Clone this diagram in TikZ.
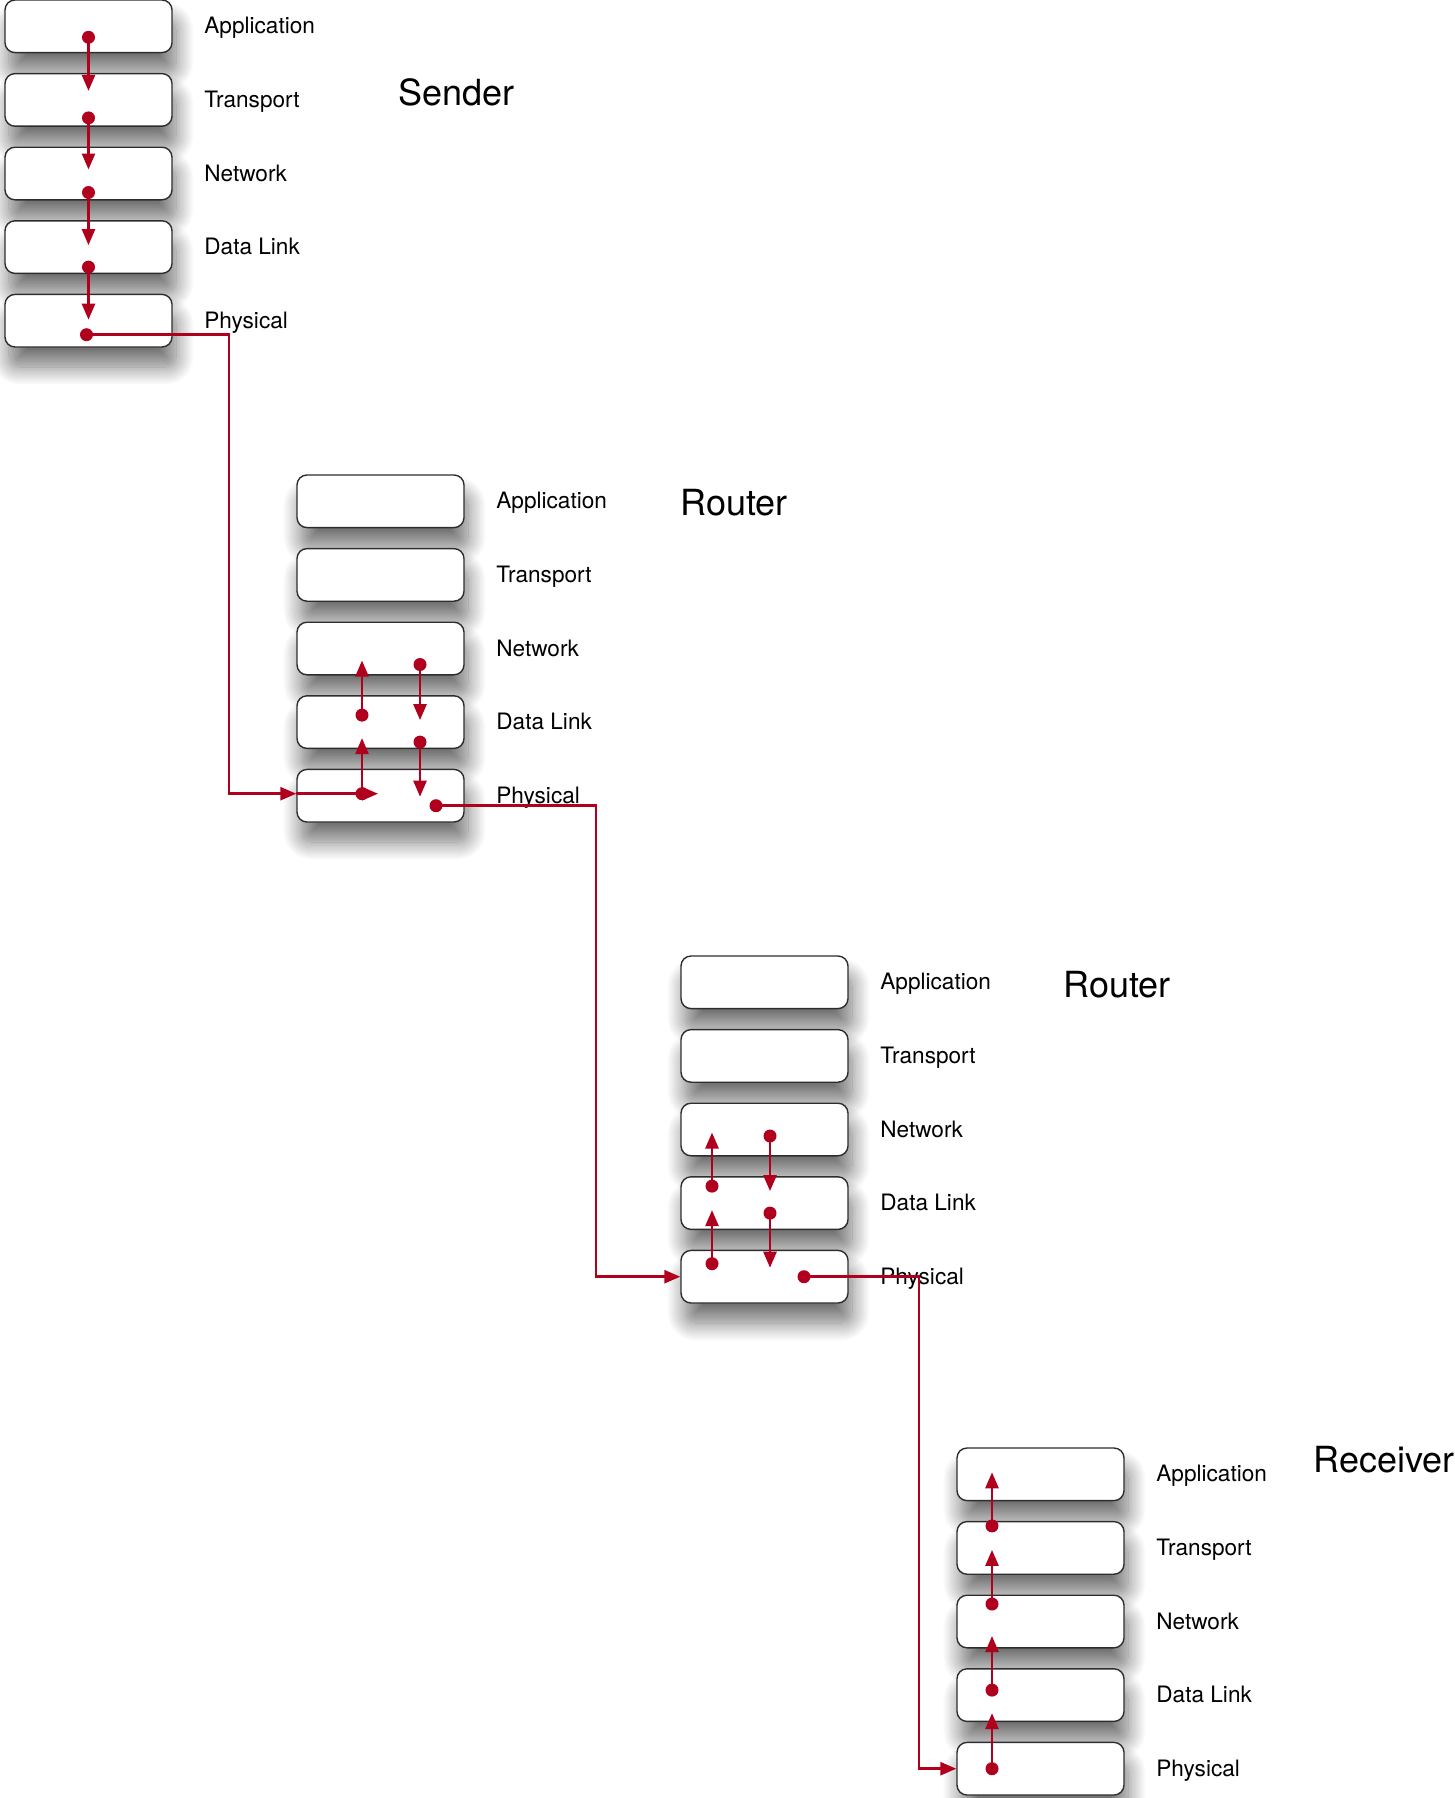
\documentclass[tikz,border=0pt]{standalone}
\usepackage{fontspec}
\setmainfont{TeX Gyre Heros}
\usepackage{tikz}
\usetikzlibrary{arrows.meta,positioning,calc,shadows.blur}
\definecolor{flowred}{RGB}{176,0,30}
\definecolor{boxedge}{RGB}{45,45,45}

\tikzset{
    layerbox/.style={
        rounded corners=5pt,
        draw=boxedge,
        line width=0.7pt,
        fill=white,
        minimum width=83.5pt,
        minimum height=26.3pt,
        inner sep=0pt,
        blur shadow={shadow xshift=2pt,shadow yshift=-10pt,shadow blur radius=9pt,shadow blur steps=16,shadow opacity=55}
    },
    layername/.style={anchor=base west,inner sep=0pt,font=\fontsize{11.3}{14}\selectfont},
    hostname/.style={anchor=west,inner sep=0pt,font=\fontsize{18}{22}\selectfont},
    hop/.style={draw=flowred,line width=1.3pt,-{Triangle[length=8pt,width=6.5pt]}},
    pkt/.style={circle,fill=flowred,inner sep=0pt,minimum size=6.5pt}
}

% one stack of five layers, #1 = prefix, (#2,#3) = top left corner
\newcommand{\protostack}[3]{%
  \foreach \lname/\ltext [count=\i from 0] in {app/Application,tra/Transport,net/Network,dl/Data Link,phy/Physical}{
    \node[layerbox] (#1-\lname) at ({#2+83.5},{#3+26.3+73.6*\i}) {};
    \node[layername] (#1-\lname-txt) at ({#2+199},{#3+33.8+73.6*\i}) {\ltext};
  }%
}

\begin{document}
\begin{tikzpicture}[x=0.5pt,y=-0.5pt]
\useasboundingbox (0,0) rectangle (1455,1798);

% stacks
\protostack{S}{5}{0}
\protostack{R1}{297}{475}
\protostack{R2}{681}{956}
\protostack{Rx}{957}{1448}

\node[hostname] (S-title) at (398,92) {Sender};
\node[hostname] (R1-title) at (680,503) {Router};
\node[hostname] (R2-title) at (1063,985) {Router};
\node[hostname] (Rx-title) at (1313,1460) {Receiver};

% sender: down the stack
\foreach \hi/\lo/\dy/\ty [count=\k] in {app/tra/11/-9,tra/net/18/-4,net/dl/19/-2,dl/phy/20/-1}{
  \node[pkt] (S-d\k) at ($(S-\hi)+(0,\dy)$) {};
  \coordinate (S-t\k) at ($(S-\lo)+(0,\ty)$);
  \draw[hop] (S-d\k.center) -- (S-t\k);
}
\node[pkt] (S-out) at ($(S-phy)+(-2,14)$) {};
\coordinate (S-turn) at (229,0);

% first router
\coordinate (R1-in) at ($(R1-phy.west)+(0,-2)$);
\coordinate (R1-t0) at ($(R1-phy)+(-2.5,-2)$);
\node[pkt] (R1-u1) at ($(R1-phy)+(-18.5,-2)$) {};
\coordinate (R1-u2) at ($(R1-dl)+(-18.5,16)$);
\node[pkt] (R1-u3) at ($(R1-dl)+(-18.5,-7)$) {};
\coordinate (R1-u4) at ($(R1-net)+(-18.5,12)$);
\node[pkt] (R1-n1) at ($(R1-net)+(39.5,16)$) {};
\coordinate (R1-n2) at ($(R1-dl)+(39.5,-2)$);
\node[pkt] (R1-n3) at ($(R1-dl)+(39.5,20)$) {};
\coordinate (R1-n4) at ($(R1-phy)+(39.5,1)$);
\node[pkt] (R1-out) at ($(R1-phy)+(55.5,10)$) {};
\coordinate (R1-turn) at (596,0);

% second router
\coordinate (R2-in) at (R2-phy.west);
\node[pkt] (R2-u1) at ($(R2-phy)+(-52.5,-13)$) {};
\coordinate (R2-u2) at ($(R2-dl)+(-52.5,7)$);
\node[pkt] (R2-u3) at ($(R2-dl)+(-52.5,-17)$) {};
\coordinate (R2-u4) at ($(R2-net)+(-52.5,3)$);
\node[pkt] (R2-n1) at ($(R2-net)+(5.5,6.5)$) {};
\coordinate (R2-n2) at ($(R2-dl)+(5.5,-12)$);
\node[pkt] (R2-n3) at ($(R2-dl)+(5.5,10)$) {};
\coordinate (R2-n4) at ($(R2-phy)+(5.5,-9)$);
\node[pkt] (R2-out) at ($(R2-phy)+(39.5,0)$) {};
\coordinate (R2-turn) at (919,0);

% receiver
\coordinate (Rx-in) at (Rx-phy.west);

% links between the machines
\draw[hop] (S-out.center) -| (S-turn |- R1-in) -- (R1-in);
\draw[hop] (R1-in) -- (R1-t0);
\draw[hop] (R1-u1.center) -- (R1-u2);
\draw[hop] (R1-u3.center) -- (R1-u4);
\draw[hop] (R1-n1.center) -- (R1-n2);
\draw[hop] (R1-n3.center) -- (R1-n4);
\draw[hop] (R1-out.center) -| (R1-turn |- R2-in) -- (R2-in);
\draw[hop] (R2-u1.center) -- (R2-u2);
\draw[hop] (R2-u3.center) -- (R2-u4);
\draw[hop] (R2-n1.center) -- (R2-n2);
\draw[hop] (R2-n3.center) -- (R2-n4);
\draw[hop] (R2-out.center) -| (R2-turn |- Rx-in) -- (Rx-in);

% receiver: up the stack
\foreach \lo/\hi/\dy/\ty [count=\k] in {phy/dl/0/18,dl/net/-5/14.5,net/tra/-17.5/2,tra/app/-22/-2}{
  \node[pkt] (Rx-d\k) at ($(Rx-\lo)+(-48.5,\dy)$) {};
  \coordinate (Rx-t\k) at ($(Rx-\hi)+(-48.5,\ty)$);
  \draw[hop] (Rx-d\k.center) -- (Rx-t\k);
}
\end{tikzpicture}
\end{document}
